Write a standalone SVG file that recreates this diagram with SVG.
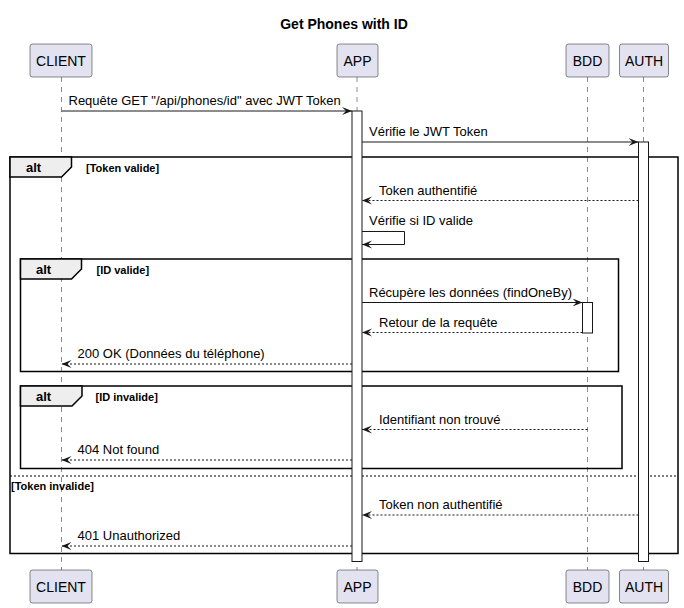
<svg xmlns="http://www.w3.org/2000/svg" width="684" height="608" viewBox="0 0 684 608">
<style>
.bg{fill:#FFFFFF}
.part rect{fill:#E2E2F0;stroke:#181818;stroke-width:0.5}
.part text{font-family:"Liberation Sans",Arial,sans-serif;font-size:14px;fill:#000;text-anchor:middle}
.life{stroke:#181818;stroke-width:0.5;stroke-dasharray:5,5;fill:none}
.act{fill:#FFFFFF;stroke:#181818;stroke-width:1}
.frame{fill:none;stroke:#000;stroke-width:1.5}
.tab{fill:#EEEEEE;stroke:#000;stroke-width:1.5}
.alt{font-family:"Liberation Sans",Arial,sans-serif;font-size:13px;font-weight:bold;fill:#000}
.guard{font-family:"Liberation Sans",Arial,sans-serif;font-size:11px;font-weight:bold;fill:#000}
.sep{stroke:#000;stroke-width:1;stroke-dasharray:2,2;fill:none}
.msg{stroke:#181818;stroke-width:1;fill:none;marker-end:url(#ah)}
.ret{stroke:#181818;stroke-width:1;fill:none;stroke-dasharray:2,2;marker-end:url(#ah)}
.lbl{font-family:"Liberation Sans",Arial,sans-serif;font-size:13px;fill:#000}
.title{font-family:"Liberation Sans",Arial,sans-serif;font-size:14px;font-weight:bold;fill:#000;text-anchor:middle}
</style>
<defs>
<marker id="ah" markerUnits="userSpaceOnUse" markerWidth="12" markerHeight="10" refX="10" refY="4" orient="auto" viewBox="0 0 12 10">
<path d="M0,0 L10,4 L0,8 L4,4 Z" fill="#181818"/>
</marker>
</defs>
<rect class="bg" x="0" y="0" width="684" height="608"/>
<text class="title" x="344" y="29">Get Phones with ID</text>

<g id="lifelines">
<line class="life" x1="61.5" y1="77" x2="61.5" y2="570"/>
<line class="life" x1="357" y1="77" x2="357" y2="570"/>
<line class="life" x1="587.5" y1="77" x2="587.5" y2="570"/>
<line class="life" x1="643.5" y1="77" x2="643.5" y2="570"/>
</g>

<g id="CLIENT" class="part">
<rect x="30" y="44" width="62" height="33" rx="2.5"/>
<text x="61" y="66">CLIENT</text>
<rect x="30" y="570" width="62" height="33" rx="2.5"/>
<text x="61" y="592">CLIENT</text>
</g>
<g id="APP" class="part">
<rect x="337" y="44" width="41" height="33" rx="2.5"/>
<text x="357.5" y="66">APP</text>
<rect x="337" y="570" width="41" height="33" rx="2.5"/>
<text x="357.5" y="592">APP</text>
</g>
<g id="BDD" class="part">
<rect x="566" y="44" width="43" height="33" rx="2.5"/>
<text x="587.5" y="66">BDD</text>
<rect x="566" y="570" width="43" height="33" rx="2.5"/>
<text x="587.5" y="592">BDD</text>
</g>
<g id="AUTH" class="part">
<rect x="619.5" y="44" width="49" height="33" rx="2.5"/>
<text x="644" y="66">AUTH</text>
<rect x="619.5" y="570" width="49" height="33" rx="2.5"/>
<text x="644" y="592">AUTH</text>
</g>

<g id="alt-token">
<rect class="frame" x="10" y="157" width="668" height="396.5"/>
<path class="tab" d="M10,157 L71.5,157 L71.5,167 L61.5,177 L10,177 Z"/>
<text class="alt" x="26" y="172">alt</text>
<text class="guard" x="86" y="171.5">[Token valide]</text>
<line class="sep" x1="10" y1="476" x2="678" y2="476"/>
<text class="guard" x="11" y="489.5">[Token invalide]</text>
</g>
<g id="alt-id-valide">
<rect class="frame" x="20.5" y="259" width="598" height="112.5"/>
<path class="tab" d="M20.5,259 L81.5,259 L81.5,269 L71.5,279 L20.5,279 Z"/>
<text class="alt" x="36" y="274">alt</text>
<text class="guard" x="96.5" y="273.5">[ID valide]</text>
</g>
<g id="alt-id-invalide">
<rect class="frame" x="20.5" y="386" width="601.5" height="82.5"/>
<path class="tab" d="M20.5,386 L82,386 L82,396 L72,406 L20.5,406 Z"/>
<text class="alt" x="36" y="401">alt</text>
<text class="guard" x="95.5" y="400.5">[ID invalide]</text>
</g>

<g id="activations">
<rect class="act" x="352" y="111" width="10" height="450.5"/>
<rect class="act" x="638.5" y="142" width="10" height="419.5"/>
<rect class="act" x="582.5" y="302.5" width="10" height="30.5"/>
</g>

<g id="connectors">
<line class="msg" x1="61.5" y1="111" x2="352" y2="111"/>
<text class="lbl" x="68.5" y="105">Requête GET "/api/phones/id" avec JWT Token</text>
<line class="msg" x1="362" y1="142" x2="638.5" y2="142"/>
<text class="lbl" x="369" y="136">Vérifie le JWT Token</text>
<line class="ret" x1="638.5" y1="200.5" x2="362" y2="200.5"/>
<text class="lbl" x="379" y="194.5">Token authentifié</text>
<path class="msg" d="M362,231.5 L404.5,231.5 L404.5,244.5 L362,244.5"/>
<text class="lbl" x="369" y="225">Vérifie si ID valide</text>
<line class="msg" x1="362" y1="302.5" x2="582.5" y2="302.5"/>
<text class="lbl" x="369" y="296.5">Récupère les données (findOneBy)</text>
<line class="ret" x1="582.5" y1="332.5" x2="362" y2="332.5"/>
<text class="lbl" x="379" y="326.5">Retour de la requête</text>
<line class="ret" x1="352" y1="364" x2="61.5" y2="364"/>
<text class="lbl" x="77.5" y="358">200 OK (Données du téléphone)</text>
<line class="ret" x1="587.5" y1="429.5" x2="362" y2="429.5"/>
<text class="lbl" x="379" y="423.5">Identifiant non trouvé</text>
<line class="ret" x1="352" y1="460" x2="61.5" y2="460"/>
<text class="lbl" x="77.5" y="454">404 Not found</text>
<line class="ret" x1="638.5" y1="515" x2="362" y2="515"/>
<text class="lbl" x="379" y="509">Token non authentifié</text>
<line class="ret" x1="352" y1="546" x2="61.5" y2="546"/>
<text class="lbl" x="77.5" y="540">401 Unauthorized</text>
</g>
</svg>
